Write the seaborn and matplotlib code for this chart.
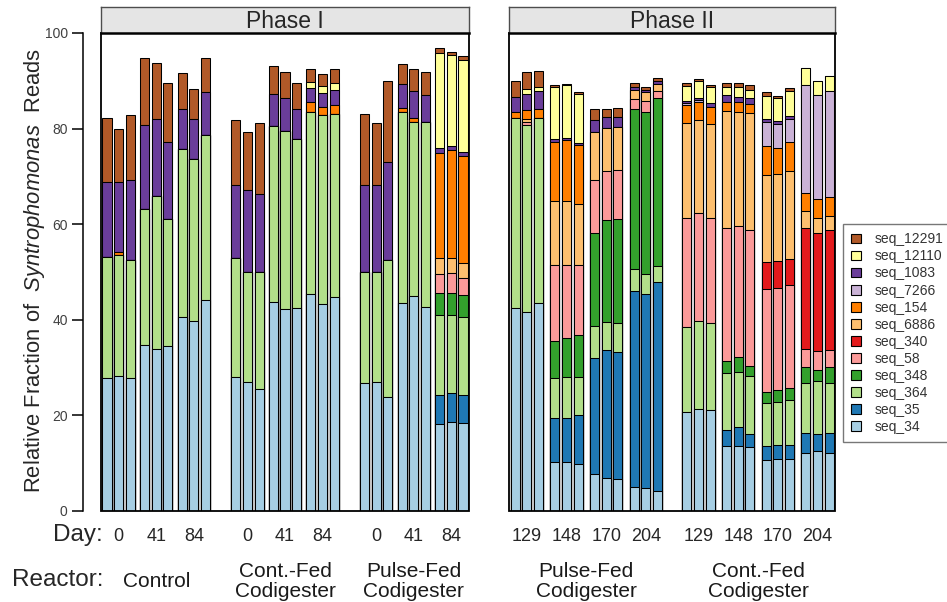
import numpy as np
import pandas as pd
import matplotlib
matplotlib.use("Agg")
import matplotlib.pyplot as plt
import seaborn as sns
from matplotlib.patches import Patch, Rectangle

sns.set_style("white")
plt.rcParams['font.family'] = ['Liberation Sans', 'DejaVu Sans']
plt.rcParams['mathtext.fontset'] = 'custom'
plt.rcParams['mathtext.it'] = 'Liberation Sans:italic'
plt.rcParams['mathtext.rm'] = 'Liberation Sans'

# ---------------- data ----------------
PHASES = ["Phase I", "Phase II"]
P1_REACTORS = ["Control", "Cont.-Fed\nCodigester", "Pulse-Fed\nCodigester"]
P1_DAYS = ["0", "41", "84"]
P2_REACTORS = ["Pulse-Fed\nCodigester", "Cont.-Fed\nCodigester"]
P2_DAYS = ["129", "148", "170", "204"]
N_REP = 3

# stacking order, bottom -> top
SEQS = ["seq_34", "seq_35", "seq_364", "seq_348", "seq_58", "seq_340",
        "seq_6886", "seq_154", "seq_7266", "seq_1083", "seq_12110", "seq_12291"]

# values: 27 Phase I samples (Control, Cont.-Fed, Pulse-Fed x days 0/41/84 x 3 reps)
# followed by 24 Phase II samples (Pulse-Fed, Cont.-Fed x days 129/148/170/204 x 3 reps)
seq_34 = [27.8, 28.3, 27.8, 34.8, 33.8, 34.6, 40.6, 39.8, 44.1,
          28.1, 27.0, 25.6, 43.7, 42.3, 42.5, 45.4, 43.4, 44.7,
          26.8, 27.0, 23.8, 43.5, 45.0, 42.7, 18.2, 18.6, 18.4,
          42.5, 41.7, 43.5, 10.3, 10.2, 9.8, 7.8, 7.0, 6.7, 5.0, 4.8, 4.1,
          20.7, 21.3, 21.2, 13.6, 13.7, 13.4, 10.6, 10.8, 10.8, 12.1, 12.6, 12.1]
seq_35 = [0, 0, 0, 0, 0, 0, 0, 0, 0,
          0, 0, 0, 0, 0, 0, 0, 0, 0,
          0, 0, 0, 0, 0, 0, 6.1, 6.1, 5.9,
          0, 0, 0, 9.1, 9.2, 10.2, 24.2, 26.6, 26.6, 41.1, 40.7, 43.8,
          0, 0, 0, 3.4, 3.8, 2.7, 3.0, 3.0, 3.0, 4.2, 3.5, 4.3]
seq_364 = [25.4, 25.3, 24.8, 28.4, 32.0, 26.5, 35.1, 33.9, 34.5,
           24.9, 23.0, 24.4, 36.9, 37.3, 35.3, 38.0, 39.5, 38.4,
           23.2, 23.0, 28.8, 39.9, 36.3, 38.6, 16.6, 16.3, 16.3,
           39.8, 39.1, 38.7, 8.4, 8.6, 8.1, 6.6, 6.0, 6.0, 4.6, 4.1, 3.3,
           17.7, 18.5, 18.1, 11.9, 11.6, 12.1, 9.0, 9.1, 9.5, 10.5, 11.0, 10.4]
seq_348 = [0, 0, 0, 0, 0, 0, 0, 0, 0,
           0, 0, 0, 0, 0, 0, 0, 0, 0,
           0, 0, 0, 0, 0, 0, 4.7, 4.6, 4.6,
           0, 0, 0, 7.8, 8.1, 8.8, 19.6, 21.3, 21.7, 33.4, 33.9, 35.1,
           0, 0, 0, 2.5, 3.1, 2.1, 2.4, 2.5, 2.5, 3.3, 2.5, 3.3]
seq_58 = [0, 0, 0, 0, 0, 0, 0, 0, 0,
          0, 0, 0, 0, 0, 0, 0, 0, 0,
          0, 0, 0, 0, 0, 0, 3.9, 4.1, 3.6,
          0, 0.6, 0, 15.8, 15.4, 14.5, 11.1, 10.2, 10.3, 2.1, 2.2, 1.6,
          23.0, 22.5, 22.1, 27.9, 27.4, 28.5, 21.5, 21.3, 21.4, 3.7, 3.8, 3.5]
seq_340 = [0, 0, 0, 0, 0, 0, 0, 0, 0,
           0, 0, 0, 0, 0, 0, 0, 0, 0,
           0, 0, 0, 0, 0, 0, 0, 0, 0,
           0, 0, 0, 0, 0, 0, 0, 0, 0, 0, 0, 0,
           0, 0, 0, 0, 0, 0, 5.6, 5.5, 5.6, 25.5, 24.7, 25.1]
seq_6886 = [0, 0, 0, 0, 0, 0, 0, 0, 0,
            0, 0, 0, 0, 0, 0, 0, 0, 0,
            0, 0, 0, 0, 0, 0, 3.5, 3.3, 3.1,
            0, 0.7, 0, 13.4, 13.3, 12.8, 9.9, 9.0, 9.1, 1.9, 1.9, 1.5,
            19.7, 19.5, 19.5, 24.3, 23.8, 24.4, 18.1, 18.2, 18.3, 3.5, 3.3, 3.0]
seq_154 = [0, 0.6, 0, 0, 0, 0, 0, 0, 0,
           0, 0, 0, 0, 0, 0, 2.1, 1.6, 1.9,
           0, 0, 0, 1.0, 1.0, 0, 22.0, 22.5, 22.4,
           1.1, 1.8, 1.9, 12.4, 12.9, 12.3, 0, 0, 0, 0, 0, 0,
           3.9, 3.8, 3.7, 2.0, 2.1, 1.9, 6.1, 5.5, 6.0, 3.8, 3.8, 3.9]
seq_7266 = [0, 0, 0, 0, 0, 0, 0, 0, 0,
            0, 0, 0, 0, 0, 0, 0, 0, 0,
            0, 0, 0, 0, 0, 0, 0, 0, 0,
            0, 0, 0, 0, 0, 0, 0, 0, 0, 0, 0, 0,
            0.4, 0.4, 0, 0, 0, 0, 5.1, 5.0, 5.0, 22.5, 21.8, 22.2]
seq_1083 = [15.7, 14.7, 16.6, 17.5, 16.2, 16.0, 8.4, 8.3, 9.0,
            15.3, 17.1, 16.4, 6.7, 6.7, 6.4, 2.9, 2.9, 3.0,
            18.1, 18.3, 20.4, 4.9, 5.5, 5.7, 1.0, 0.9, 0.9,
            3.2, 3.3, 3.7, 0.7, 0.4, 0.4, 2.6, 2.3, 2.1, 0.7, 0.4, 0.5,
            0.4, 0.5, 0.7, 1.4, 1.2, 1.2, 0.6, 0.6, 0.6, 0, 0, 0]
seq_12110 = [0, 0, 0, 0, 0, 0, 0, 0, 0,
             0, 0, 0, 0, 0, 0, 1.4, 1.6, 1.5,
             0, 0, 0, 0, 0, 0, 19.8, 18.9, 19.1,
             0, 1.1, 1.0, 10.9, 11.0, 10.3, 0, 0, 0, 0, 0, 0,
             3.2, 3.4, 3.3, 1.8, 1.9, 1.8, 4.9, 4.9, 5.1, 3.5, 2.9, 3.3]
seq_12291 = [13.4, 11.1, 13.7, 14.0, 11.8, 12.4, 7.5, 6.3, 7.1,
             13.6, 12.1, 14.8, 5.8, 5.5, 5.4, 2.6, 2.5, 2.9,
             15.0, 12.8, 17.0, 4.3, 4.6, 4.9, 1.0, 0.8, 0.8,
             3.3, 3.5, 3.2, 0.4, 0.3, 0.4, 2.3, 1.8, 1.8, 0.7, 0.8, 0.6,
             0.6, 0.5, 0.6, 0.8, 0.9, 1.0, 0.7, 0.5, 0.6, 0, 0, 0]

VALUES = [seq_34, seq_35, seq_364, seq_348, seq_58, seq_340,
          seq_6886, seq_154, seq_7266, seq_1083, seq_12110, seq_12291]

# Paired palette in stacking order
pal = sns.color_palette("Paired", 12)
COLORS = dict(zip(SEQS, pal))

# ---------------- layout helpers ----------------
def positions(n_reactors, n_days, n_rep, day_gap, reactor_gap):
    xs, day_c, reac_c = [], [], []
    span = n_days * n_rep + (n_days - 1) * day_gap
    for r in range(n_reactors):
        r0 = r * (span + reactor_gap)
        for d in range(n_days):
            d0 = r0 + d * (n_rep + day_gap)
            xs.extend([d0 + k for k in range(n_rep)])
            day_c.append(d0 + (n_rep - 1) / 2)
        reac_c.append(r0 + (span - 1) / 2)
    return np.array(xs, float), day_c, reac_c

x1, d1, r1 = positions(len(P1_REACTORS), len(P1_DAYS), N_REP, 0.22, 1.58)
x2, d2, r2 = positions(len(P2_REACTORS), len(P2_DAYS), N_REP, 0.40, 1.52)

vals = np.array(VALUES, float)
n1 = len(x1)
cum = np.cumsum(vals, axis=0)

W, H = 947, 602
fig = plt.figure(figsize=(W / 100, H / 100), dpi=100)

panels = [
    dict(rect=[101, 33, 469, 511], x=x1, cum=cum[:, :n1], days=d1,
         daylab=P1_DAYS * len(P1_REACTORS),
         reac=r1, reaclab=P1_REACTORS, xlim=(x1[0] - 0.51, x1[-1] + 0.51), title=PHASES[0]),
    dict(rect=[509, 33, 835, 511], x=x2, cum=cum[:, n1:], days=d2,
         daylab=P2_DAYS * len(P2_REACTORS),
         reac=r2, reaclab=P2_REACTORS, xlim=(x2[0] - 0.535, x2[-1] + 0.51), title=PHASES[1]),
]

for pi, p in enumerate(panels):
    l, t, r, b = p["rect"]
    ax = fig.add_axes([l / W, 1 - b / H, (r - l) / W, (b - t) / H])
    for i in reversed(range(len(SEQS))):
        df = pd.DataFrame({"x": p["x"], "y": p["cum"][i]})
        sns.barplot(data=df, x="x", y="y", native_scale=True, orient="x",
                    color=COLORS[SEQS[i]], saturation=1, width=0.78,
                    edgecolor="black", linewidth=0.75, errorbar=None, ax=ax)
    ax.set_xlim(*p["xlim"])
    ax.set_ylim(0, 100)
    ax.set_xlabel("")
    ax.set_ylabel("")
    ax.set_xticks(p["days"])
    ax.set_xticklabels(p["daylab"], fontsize=13, color="#262626")
    ax.tick_params(axis="x", bottom=False, length=0, pad=12)
    for s in ["top", "right", "bottom"]:
        ax.spines[s].set_visible(False)
    ax.add_patch(Rectangle((0, 0), 1, 1, transform=ax.transAxes, fill=False,
                           lw=1.3, ec="black", zorder=10, clip_on=False))
    if pi == 0:
        ax.spines["left"].set_position(("outward", 13))
        ax.spines["left"].set_bounds(0, 100)
        ax.spines["left"].set_color("black")
        ax.spines["left"].set_linewidth(1.1)
        ax.set_yticks([0, 20, 40, 60, 80, 100])
        ax.tick_params(axis="y", left=True, length=8, width=1.1, color="black",
                       labelsize=10, labelcolor="#404040", pad=3)
    else:
        ax.spines["left"].set_visible(False)
        ax.set_yticks([])
    for xc, lab in zip(p["reac"], p["reaclab"]):
        ax.text(xc, -0.147, lab, transform=ax.get_xaxis_transform(), ha="center",
                va="center", fontsize=15, linespacing=1.08, color="#1a1a1a")
    # strip header
    sax = fig.add_axes([l / W, 1 - t / H, (r - l) / W, 26 / H])
    sax.set_facecolor("#E5E5E5")
    sax.set_xticks([]); sax.set_yticks([])
    for s in sax.spines.values():
        s.set_color("#4d4d4d"); s.set_linewidth(1.0)
    sax.spines["bottom"].set_color("black"); sax.spines["bottom"].set_linewidth(1.8)
    sax.text(0.5, 0.45, p["title"], ha="center", va="center", fontsize=16.5,
             transform=sax.transAxes)

fig.text(103 / W, 1 - 535 / H, "Day:", ha="right", va="center", fontsize=17.5)
fig.text(103 / W, 1 - 580 / H, "Reactor:", ha="right", va="center", fontsize=17.5)
fig.text(35 / W, 1 - 270 / H,
         r"Relative Fraction of  $\mathit{Syntrophomonas}$  Reads",
         rotation=90, ha="center", va="center", fontsize=15.8, color="#262626")

handles = [Patch(facecolor=COLORS[s], edgecolor="black", linewidth=0.8, label=s)
           for s in reversed(SEQS)]
leg = fig.legend(handles=handles, loc="upper left",
                 bbox_to_anchor=(843 / W, 1 - 224 / H), frameon=True, fontsize=10,
                 handlelength=0.7, handleheight=0.7, handletextpad=1.0,
                 labelspacing=0.22, borderpad=0.6, borderaxespad=0, fancybox=False)
leg.get_frame().set_edgecolor("#555555")
leg.get_frame().set_linewidth(1.0)
for tx in leg.get_texts():
    tx.set_color("#333333")

fig.savefig("out.png", dpi=100)
